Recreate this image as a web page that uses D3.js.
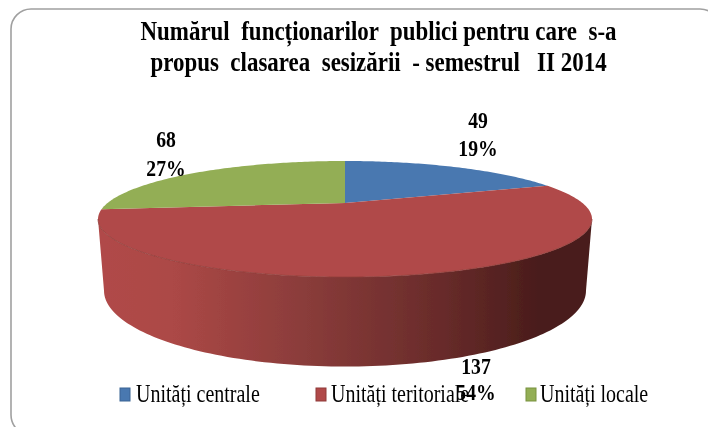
<!DOCTYPE html>
<html>
<head>
<meta charset="utf-8">
<script src="https://cdnjs.cloudflare.com/ajax/libs/d3/7.8.5/d3.min.js"></script>
<style>
html,body{margin:0;padding:0;background:#fff;overflow:hidden}
svg{display:block}
text{font-family:"Liberation Serif","Times New Roman",serif;fill:#000}
</style>
</head>
<body>
<svg id="c" width="708" height="427"></svg>
<script>
const titleLines = ["Numărul  funcționarilor  publici pentru care  s-a", "propus  clasarea  sesizării  - semestrul   II 2014"];
const categories = ["Unități centrale", "Unități teritoriale", "Unități locale"];
const values = [49, 137, 68];
const percents = ["19%", "54%", "27%"];
const colors = ["#4a78b0", "#b04a48", "#93ae54"];
const legendEdge = ["#3a6394", "#8f3a38", "#78923f"];

const svg = d3.select("#c");

// defs: blur to imitate the upscaled source, gradient of the wall
const defs = svg.append("defs");
defs.append("filter").attr("id","soft").attr("x","-5%").attr("y","-5%").attr("width","110%").attr("height","110%")
  .append("feGaussianBlur").attr("stdDeviation",0.45);
const grad = defs.append("linearGradient").attr("id","wall").attr("gradientUnits","userSpaceOnUse")
  .attr("x1",104).attr("x2",586).attr("y1",0).attr("y2",0);
[[0,"#b04a48"],[0.14,"#ac4846"],[0.4,"#8c3d3b"],[0.7,"#682b2a"],[0.9,"#4a1d1b"],[1,"#4a1d1b"]]
  .forEach(([o,c])=>grad.append("stop").attr("offset",o).attr("stop-color",c));

// frame
svg.append("rect").attr("x",11).attr("y",9).attr("width",709).attr("height",426).attr("rx",20)
  .attr("fill","#fff").attr("stroke","#a0a0a0").attr("stroke-width",1.6);

// perspective projection of the pie disc
const cx = 345, vy = 203, R = 237.4, Hh = 53.6, k = 0.276;
const proj = (a) => {
  const u = Math.sin(a), v = Math.cos(a), w = 1 + k*v;
  return [cx + R*u/w, vy - Hh*v/w];
};

const pie = d3.pie().sort(null).value(d=>d);
const arcs = pie(values);
const line = d3.line();
const sliceD = d => {
  const n = Math.ceil((d.endAngle-d.startAngle)*60);
  const pts = d3.range(n+1).map(i=>proj(d.startAngle+(d.endAngle-d.startAngle)*i/n));
  return line([[cx,vy],...pts])+"Z";
};

const g = svg.append("g").attr("filter","url(#soft)");

// wall: from the top disc's silhouette down to the base disc
const extreme = Math.acos(-k);            // angle of the disc's widest points
const aR = extreme, aL = 2*Math.PI-extreme;
const depthY = 71.5, baseRy = 76/58, baseScale = 241/247;
const baseCy = 219 + depthY;
const topPts = d3.range(121).map(i=>proj(aR+(aL-aR)*i/120));
const basePts = topPts.map(([x,y])=>[cx+(x-cx)*baseScale, baseCy+(y-219)*baseRy]);
g.append("path").attr("d",line([...topPts,...basePts.reverse()])+"Z").attr("fill","url(#wall)");

// top slices
g.selectAll("path.s").data(arcs).enter().append("path").attr("class","s")
  .attr("d",sliceD).attr("fill",(d,i)=>colors[i]);
// thin rim on the front edge
g.append("path").attr("d",line(topPts)).attr("fill","none").attr("stroke","#8f3c3a").attr("stroke-width",0.8);

const t = svg.append("g").attr("filter","url(#soft)");
const squeezed = (sel,x,y,sx) => sel.attr("transform",`translate(${x},${y}) scale(${sx},1)`);

// title
titleLines.forEach((s,i)=>{
  const el = t.append("text").attr("text-anchor","middle").attr("font-weight","bold").attr("font-size",28)
    .attr("xml:space","preserve").style("white-space","pre").text(s);
  squeezed(el,378.5,[40,71][i],0.82);
});

// legend
const legX = [[120,136],[316,331],[526,540]];
categories.forEach((c,i)=>{
  const [sx,tx] = legX[i];
  t.append("rect").attr("x",sx).attr("y",388).attr("width",10).attr("height",13)
    .attr("fill",colors[i]).attr("stroke",legendEdge[i]).attr("stroke-width",1);
  const el = t.append("text").attr("font-size",25).text(c);
  squeezed(el,tx,402,0.8);
});

// data labels (drawn last: the 54% label overlaps the legend in the source)
const labelPos = [[478,[128,156]],[476,[374,400]],[166,[147,176]]];
values.forEach((v,i)=>{
  const [x,ys] = labelPos[i];
  [v,percents[i]].forEach((s,j)=>{
    const el = t.append("text").attr("text-anchor","middle").attr("font-weight","bold").attr("font-size",24).text(s);
    squeezed(el,x,ys[j],0.82);
  });
});
</script>
</body>
</html>
